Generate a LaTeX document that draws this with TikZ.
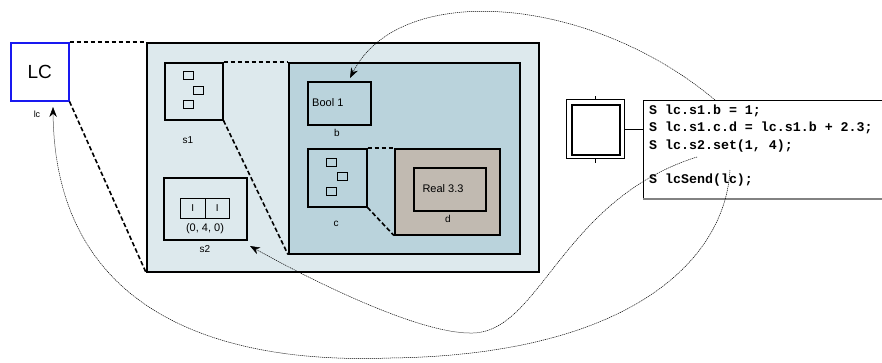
\documentclass[tikz,border=0pt]{standalone}
\usepackage{fontspec}
\setmainfont{Liberation Sans}
\setmonofont{Liberation Mono}
\usetikzlibrary{arrows.meta}
\definecolor{outerfill}{RGB}{221,233,237}
\definecolor{innerfill}{RGB}{186,211,220}
\definecolor{dfill}{RGB}{193,186,177}
\definecolor{lcblue}{RGB}{25,25,240}
\definecolor{shadowgray}{RGB}{130,130,130}
\tikzset{
  box/.style={draw, line width=1.5pt, inner sep=0pt, anchor=north west},
  mini/.style={draw, line width=0.8pt, inner sep=0pt, anchor=north west, minimum width=10pt, minimum height=7.5pt},
  lbl/.style={inner sep=0pt, font=\fontsize{10}{12}\selectfont},
  txt/.style={inner sep=0pt, font=\fontsize{11}{13}\selectfont},
  code/.style={inner sep=0pt, anchor=west, font=\fontsize{13.3}{15}\selectfont\ttfamily\bfseries},
  zoomline/.style={line width=1.6pt, dash pattern=on 4.5pt off 2.5pt},
  curve/.style={line width=0.5pt, dash pattern=on 1.2pt off 0.8pt, -{Stealth[length=10pt,width=7.5pt]}},
}
\begin{document}
\begin{tikzpicture}[x=1pt,y=-1pt]
\useasboundingbox (0,0) rectangle (882,362);
% LC
\node[box, draw=lcblue, minimum width=58pt, minimum height=58pt] (lc) at (10,42) {};
\node[inner sep=0pt, font=\fontsize{19}{21}\selectfont] (lctext) at (lc.center) {LC};
\node[lbl, font=\fontsize{9}{11}\selectfont] (lclbl) at (37,114) {lc};
% outer panel
\node[box, fill=outerfill, minimum width=392pt, minimum height=229pt] (outer) at (146,42) {};
\draw[zoomline] (lc.north east) -- (outer.north west);
\draw[zoomline] (lc.south east) -- (outer.south west);
% s1
\node[box, minimum width=58pt, minimum height=57pt] (s1) at (164,62) {};
\node[mini] (s1a) at (183,71) {};
\node[mini] (s1b) at (193,86) {};
\node[mini] (s1c) at (183,100) {};
\node[lbl] (s1lbl) at (188,140) {s1};
% s2
\node[box, minimum width=83pt, minimum height=62pt] (s2) at (163,177) {};
\node[draw, line width=0.8pt, inner sep=0pt, anchor=north west, minimum width=24.5pt, minimum height=20pt, font=\fontsize{10}{12}\selectfont] (cell1) at (180,198) {I};
\node[draw, line width=0.8pt, inner sep=0pt, anchor=north west, minimum width=24.5pt, minimum height=20pt, font=\fontsize{10}{12}\selectfont] (cell2) at (204.5,198) {I};
\node[txt] (s2val) at (205,229) {(0, 4, 0)};
\node[lbl] (s2lbl) at (205,249) {s2};
% inner panel
\node[box, fill=innerfill, minimum width=231pt, minimum height=191pt] (inner) at (288,62) {};
\draw[zoomline] (s1.north east) -- (inner.north west);
\draw[zoomline] (s1.south east) -- (inner.south west);
% b
\node[box, minimum width=63pt, minimum height=43pt] (b) at (307,81) {};
\node[txt, anchor=west] (btext) at (312,103) {Bool 1};
\node[lbl] (blbl) at (337,133) {b};
% c
\node[box, minimum width=59pt, minimum height=58pt] (c) at (307,148) {};
\node[mini] (ca) at (326,158) {};
\node[mini] (cb) at (337,172) {};
\node[mini] (cc) at (326,187) {};
\node[lbl] (clbl) at (336,224) {c};
% d
\node[box, fill=dfill, minimum width=105pt, minimum height=86pt] (dout) at (394,148) {};
\node[box, minimum width=72pt, minimum height=43pt] (din) at (413,167) {};
\node[txt] (dtext) at (443,189) {Real 3.3};
\node[lbl] (dlbl) at (448,219) {d};
\draw[zoomline] (c.north east) -- (dout.north west);
\draw[zoomline] (c.south east) -- (dout.south west);
% step symbol
\node[draw, line width=1.2pt, inner sep=0pt, anchor=north west, minimum width=58pt, minimum height=59pt] (stepout) at (566,99) {};
\node[draw, line width=1.8pt, inner sep=0pt, anchor=north west, minimum width=48pt, minimum height=50pt] (stepin) at (571,104) {};
\draw[line width=0.8pt] (stepout.north) -- ++(0,-3.5);
\draw[line width=0.8pt] (stepout.south) -- ++(0,3.5);
% code box
\node[inner sep=0pt, anchor=north west, minimum width=250pt, minimum height=99pt] (codebox) at (643,100) {};
\draw[line width=0.9pt] (codebox.north east) -- (codebox.north west) -- (codebox.south west);
\draw[line width=2pt, shadowgray] (codebox.south west) -- (codebox.south east);
\draw[line width=0.8pt] (stepout.east) -- (codebox.west |- stepout.east);
\node[code] (l1) at (649,111) {S lc.s1.b = 1;};
\node[code] (l2) at (649,128) {S lc.s1.c.d = lc.s1.b + 2.3;};
\node[code] (l3) at (649,146) {S lc.s2.set(1, 4);};
\node[code] (l5) at (649,180) {S lcSend(lc);};
% curves
\coordinate (cA) at (715,100);
\coordinate (bA) at (350,78);
\draw[curve] (cA) .. controls (590,-5) and (400,-20) .. (bA);
\coordinate (cB) at (697,157);
\coordinate (cBm) at (470,333);
\coordinate (s2A) at (250,246);
\draw[curve] (cB) .. controls (560,200) and (540,335) .. (cBm) .. controls (420,333) and (320,285) .. (s2A);
\coordinate (cC) at (730,170);
\coordinate (cCm) at (390,358);
\coordinate (lcA) at (53,107);
\draw[curve] (cC) .. controls (725,260) and (630,355) .. (cCm) .. controls (200,365) and (55,300) .. (lcA);
\end{tikzpicture}
\end{document}
